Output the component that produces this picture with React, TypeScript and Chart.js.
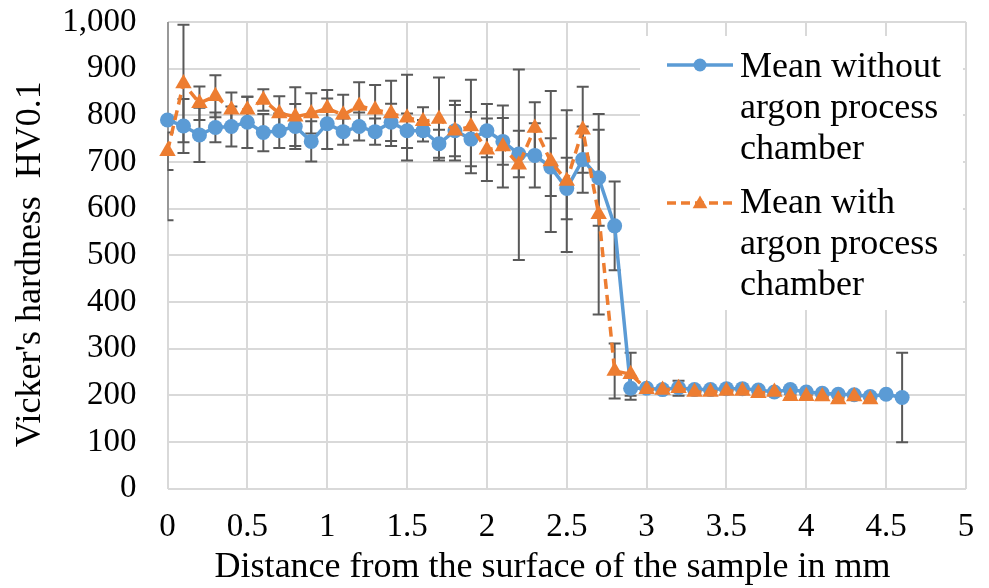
import { useEffect, useRef } from 'react';
import { Chart, registerables } from 'chart.js';

Chart.register(...registerables);

// Distance from the surface (mm) and Vickers hardness HV0.1, with standard deviations
const distanceWithout = [
  0, 0.1, 0.2, 0.3, 0.4, 0.5, 0.6, 0.7, 0.8, 0.9, 1.0, 1.1, 1.2, 1.3, 1.4, 1.5,
  1.6, 1.7, 1.8, 1.9, 2.0, 2.1, 2.2, 2.3, 2.4, 2.5, 2.6, 2.7, 2.8, 2.9, 3.0, 3.1,
  3.2, 3.3, 3.4, 3.5, 3.6, 3.7, 3.8, 3.9, 4.0, 4.1, 4.2, 4.3, 4.4, 4.5, 4.6,
];
const hardnessWithout = [
  790, 777, 758, 774, 776, 785, 763, 767, 776, 744, 782, 765, 776, 765, 785, 767,
  767, 739, 767, 749, 767, 744, 717, 714, 689, 643, 705, 666, 563, 215, 215, 212,
  216, 212, 212, 214, 214, 211, 207, 212, 207, 204, 202, 201, 197, 202, 195,
];
const errorWithout = [
  215, 58, 58, 32, 43, 55, 40, 37, 48, 43, 54, 28, 30, 28, 40, 37,
  23, 30, 55, 58, 57, 50, 50, 69, 62, 66, 71, 103, 95, 25, 4, 4,
  5, 4, 4, 4, 4, 4, 4, 4, 4, 4, 4, 4, 4, 4, 96,
];

const distanceWith = [
  0, 0.1, 0.2, 0.3, 0.4, 0.5, 0.6, 0.7, 0.8, 0.9, 1.0, 1.1, 1.2, 1.3, 1.4, 1.5,
  1.6, 1.7, 1.8, 1.9, 2.0, 2.1, 2.2, 2.3, 2.4, 2.5, 2.6, 2.7, 2.8, 2.9, 3.0, 3.1,
  3.2, 3.3, 3.4, 3.5, 3.6, 3.7, 3.8, 3.9, 4.0, 4.1, 4.2, 4.3, 4.4,
];
const hardnessWith = [
  723, 868, 826, 841, 812, 812, 833, 804, 797, 804, 815, 801, 820, 812, 804, 795,
  787, 792, 767, 776, 726, 733, 694, 773, 701, 659, 769, 588, 252, 245, 213, 211,
  215, 207, 207, 209, 209, 204, 207, 198, 198, 197, 191, 197, 191,
];
const errorWith = [
  40, 126, 36, 45, 37, 28, 23, 37, 63, 43, 39, 43, 51, 53, 70, 92,
  30, 89, 64, 100, 67, 88, 204, 55, 151, 152, 92, 215, 59, 46, 4, 4,
  16, 4, 4, 4, 4, 4, 4, 4, 4, 4, 4, 4, 4,
];

const xTickLabels = ['0', '0.5', '1', '1.5', '2', '2.5', '3', '3.5', '4', '4.5', '5'];
const yTickLabels = ['0', '100', '200', '300', '400', '500', '600', '700', '800', '900', '1,000'];

const xTitle = 'Distance from the surface of the sample in mm';
const yTitle = "Vicker's hardness  HV0.1";
const seriesNames = ['Mean without argon process chamber', 'Mean with argon process chamber'];
const legendLines = [
  ['Mean without', 'argon process', 'chamber'],
  ['Mean with', 'argon process', 'chamber'],
];

const BLUE = '#5B9BD5';
const ORANGE = '#ED7D31';
const ERR = '#595959';
const GRID = '#d9d9d9';
const SERIF = "'Liberation Serif', 'Times New Roman', serif";

function drawTriangle(ctx: CanvasRenderingContext2D, x: number, y: number, r: number) {
  const a = (2 * Math.PI) / 3;
  ctx.beginPath();
  for (let k = 0; k < 3; k++) {
    const ang = k * a;
    const px = x + Math.sin(ang) * r;
    const py = y - Math.cos(ang) * r;
    if (k === 0) ctx.moveTo(px, py);
    else ctx.lineTo(px, py);
  }
  ctx.closePath();
  ctx.fill();
}

const overlayPlugin = {
  id: 'hardnessOverlay',
  beforeDatasetsDraw(chart: any) {
    const { ctx, chartArea, scales } = chart;
    const xs = scales.x;
    const ys = scales.y;

    // white legend panel over the grid
    ctx.save();
    ctx.fillStyle = '#ffffff';
    ctx.fillRect(chartArea.right - 326, chartArea.top + 14, 323, 274);
    ctx.restore();

    // error bars (±1 standard deviation)
    ctx.save();
    ctx.beginPath();
    ctx.rect(chartArea.left, chartArea.top, chartArea.right - chartArea.left, chartArea.bottom - chartArea.top);
    ctx.clip();
    ctx.strokeStyle = ERR;
    ctx.lineWidth = 2;
    const groups = [
      [distanceWithout, hardnessWithout, errorWithout],
      [distanceWith, hardnessWith, errorWith],
    ];
    const cap = 6;
    for (const [dist, val, err] of groups) {
      for (let i = 0; i < dist.length; i++) {
        const px = xs.getPixelForValue(dist[i]);
        const top = ys.getPixelForValue(val[i] + err[i]);
        const bot = ys.getPixelForValue(val[i] - err[i]);
        ctx.beginPath();
        ctx.moveTo(px, top);
        ctx.lineTo(px, bot);
        ctx.moveTo(px - cap, top);
        ctx.lineTo(px + cap, top);
        ctx.moveTo(px - cap, bot);
        ctx.lineTo(px + cap, bot);
        ctx.stroke();
      }
    }
    ctx.restore();
  },
  afterDraw(chart: any) {
    const { ctx, chartArea } = chart;

    // axis titles
    ctx.save();
    ctx.fillStyle = '#000';
    ctx.font = `36px ${SERIF}`;
    ctx.textAlign = 'center';
    ctx.textBaseline = 'alphabetic';
    ctx.fillText(xTitle, chartArea.left + 385, chartArea.bottom + 88);
    ctx.translate(40, (chartArea.top + chartArea.bottom) / 2 + 9);
    ctx.rotate(-Math.PI / 2);
    ctx.fillText(yTitle, 0, 0);
    ctx.restore();

    // legend
    const x0 = chartArea.right - 299;
    const x1 = x0 + 66;
    const xm = (x0 + x1) / 2;
    const textX = x0 + 73;
    const symbolY = [chartArea.top + 43, chartArea.top + 181];
    const firstBaseline = [chartArea.top + 55, chartArea.top + 191];
    const lineStep = 41;

    ctx.save();
    ctx.strokeStyle = BLUE;
    ctx.fillStyle = BLUE;
    ctx.lineWidth = 3.5;
    ctx.beginPath();
    ctx.moveTo(x0, symbolY[0]);
    ctx.lineTo(x1, symbolY[0]);
    ctx.stroke();
    ctx.beginPath();
    ctx.arc(xm, symbolY[0], 6.5, 0, Math.PI * 2);
    ctx.fill();

    ctx.strokeStyle = ORANGE;
    ctx.fillStyle = ORANGE;
    ctx.setLineDash([9, 5]);
    ctx.beginPath();
    ctx.moveTo(x0, symbolY[1]);
    ctx.lineTo(x1, symbolY[1]);
    ctx.stroke();
    ctx.setLineDash([]);
    drawTriangle(ctx, xm, symbolY[1] + 1, 8.5);

    ctx.fillStyle = '#000';
    ctx.font = `36px ${SERIF}`;
    ctx.textAlign = 'left';
    ctx.textBaseline = 'alphabetic';
    legendLines.forEach((lines, s) => {
      lines.forEach((t, k) => {
        ctx.fillText(t, textX, firstBaseline[s] + k * lineStep);
      });
    });
    ctx.restore();
  },
};

export default function App() {
  const canvasRef = useRef<HTMLCanvasElement | null>(null);

  useEffect(() => {
    const canvas = canvasRef.current;
    if (!canvas) return;
    Chart.defaults.font.family = SERIF;
    Chart.defaults.color = '#000';

    const chart = new Chart(canvas, {
      type: 'line',
      data: {
        datasets: [
          {
            label: seriesNames[0],
            data: distanceWithout.map((d, i) => ({ x: d, y: hardnessWithout[i] })),
            borderColor: BLUE,
            backgroundColor: BLUE,
            borderWidth: 3.5,
            pointStyle: 'circle',
            pointRadius: 7.5,
            pointBorderWidth: 0,
            pointBackgroundColor: BLUE,
            clip: false,
            order: 2,
          },
          {
            label: seriesNames[1],
            data: distanceWith.map((d, i) => ({ x: d, y: hardnessWith[i] })),
            borderColor: ORANGE,
            backgroundColor: ORANGE,
            borderWidth: 3.5,
            borderDash: [10, 6],
            pointStyle: 'triangle',
            pointRadius: 9.5,
            pointBorderWidth: 0,
            pointBackgroundColor: ORANGE,
            clip: false,
            order: 1,
          },
        ],
      },
      options: {
        responsive: false,
        animation: false,
        devicePixelRatio: 1,
        layout: { padding: { top: 22, right: 23, left: 0, bottom: 0 } },
        plugins: {
          legend: { display: false },
          tooltip: { enabled: false },
        },
        scales: {
          x: {
            type: 'linear',
            min: 0,
            max: 5,
            ticks: {
              stepSize: 0.5,
              autoSkip: false,
              maxRotation: 0,
              padding: 19,
              font: { size: 33 },
              color: '#000',
              callback: (v: any) => xTickLabels[Math.round(Number(v) * 2)] ?? '',
            },
            grid: { color: GRID, lineWidth: 2, drawTicks: false },
            border: { display: false },
            title: { display: false },
            afterFit: (s: any) => {
              s.height = 99.5;
              s.paddingLeft = 0;
              s.paddingRight = 0;
            },
          },
          y: {
            type: 'linear',
            min: 0,
            max: 1000,
            ticks: {
              stepSize: 100,
              autoSkip: false,
              padding: 31,
              font: { size: 33 },
              color: '#000',
              callback: (_v: any, i: number) => yTickLabels[i] ?? '',
            },
            grid: { color: GRID, lineWidth: 2, drawTicks: false },
            border: { display: false },
            title: { display: false },
            afterFit: (s: any) => {
              s.width = 167.5;
              s.paddingTop = 0;
              s.paddingBottom = 0;
            },
          },
        },
      },
      plugins: [overlayPlugin],
    });

    return () => chart.destroy();
  }, []);

  return (
    <div style={{ position: 'fixed', left: 0, top: 0, width: 989, height: 588, background: '#fff' }}>
      <canvas ref={canvasRef} width={989} height={588} style={{ display: 'block' }} />
    </div>
  );
}
